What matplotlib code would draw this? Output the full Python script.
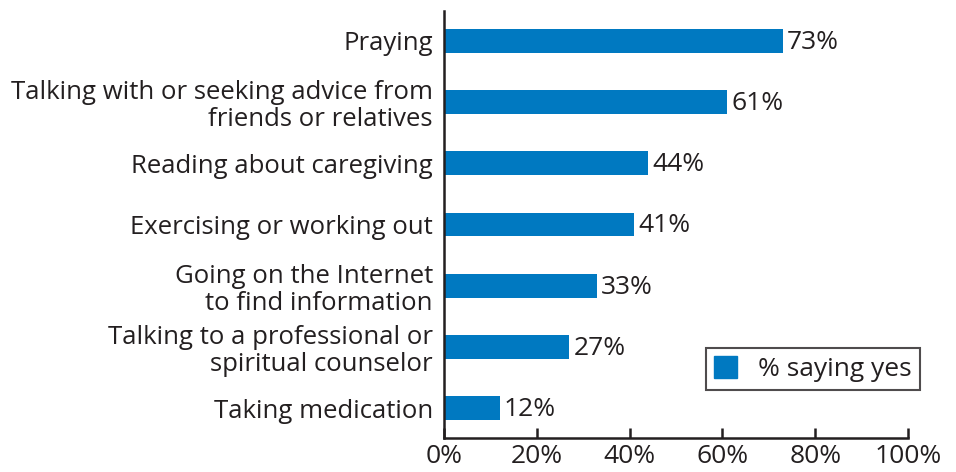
import matplotlib
matplotlib.use("Agg")
import matplotlib.pyplot as plt
from matplotlib.patches import Patch

categories = [
    "Praying",
    "Talking with or seeking advice from\nfriends or relatives",
    "Reading about caregiving",
    "Exercising or working out",
    "Going on the Internet\nto find information",
    "Talking to a professional or\nspiritual counselor",
    "Taking medication",
]
values = [73, 61, 44, 41, 33, 27, 12]
xticks = [0, 20, 40, 60, 80, 100]
xtick_labels = ["0%", "20%", "40%", "60%", "80%", "100%"]
legend_label = "% saying yes"

BLUE = "#0079C1"
TXT = "#231F20"
plt.rcParams['font.family'] = ['Open Sans', 'DejaVu Sans']

fig = plt.figure(figsize=(9.56, 4.72), dpi=100)
ax = fig.add_axes([444/956, 1-438/472, (908-444)/956, (438-11)/472])

ypos = list(range(len(categories)))
ax.barh(ypos, values, height=0.39, color=BLUE)
for y, v in zip(ypos, values):
    ax.annotate(f"{v}%", (v, y), xytext=(3, -1), textcoords="offset points",
                va="center", ha="left", fontsize=19, color=TXT)

ax.set_ylim(6.49, -0.49)
ax.set_xlim(0, 100)
ax.set_yticks(ypos)
ax.set_yticklabels(categories, fontsize=18.5, color=TXT, linespacing=1.12)
ax.tick_params(axis='y', length=0, pad=8)
ax.set_xticks(xticks)
ax.set_xticklabels(xtick_labels, fontsize=19, color=TXT)
ax.tick_params(axis='x', direction='in', length=7, width=1.8, color=TXT, pad=4)
for s in ['top', 'right']:
    ax.spines[s].set_visible(False)
for s in ['left', 'bottom']:
    ax.spines[s].set_linewidth(1.8)
    ax.spines[s].set_color(TXT)

leg = fig.legend(handles=[Patch(color=BLUE, label=legend_label)],
                 loc='upper right', bbox_to_anchor=(920/956, 1-348/472),
                 fontsize=19, frameon=True, fancybox=False, handlelength=0.9,
                 handleheight=0.9, borderpad=0.3, handletextpad=0.8,
                 borderaxespad=0)
leg.get_frame().set_edgecolor(TXT)
leg.get_frame().set_linewidth(1.5)
for t in leg.get_texts():
    t.set_color(TXT)

fig.savefig("out.png", dpi=100)
